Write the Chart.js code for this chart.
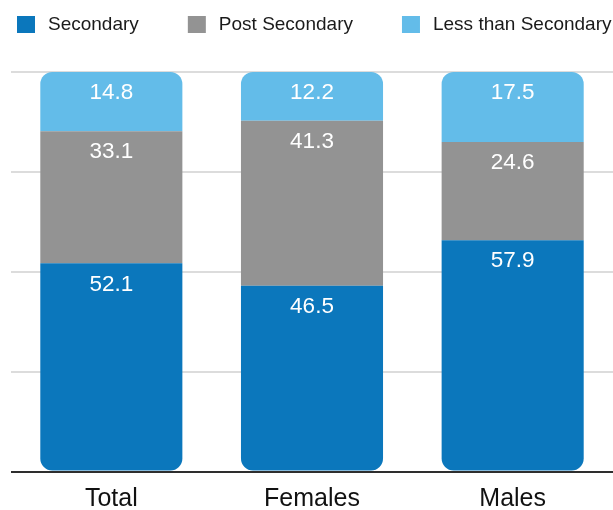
<!DOCTYPE html>
<html>
<head>
<meta charset="utf-8">
<script src="https://cdn.jsdelivr.net/npm/chart.js@4/dist/chart.umd.min.js"></script>
<style>
  html, body { margin: 0; padding: 0; background: #ffffff; }
  #wrap { width: 613px; height: 510px; position: relative; }
</style>
</head>
<body>
<div id="wrap"><canvas id="chart"></canvas></div>
<script>
// Education level shares (%) by group
const categories = ['Total', 'Females', 'Males'];
const secondary = [52.1, 46.5, 57.9];
const postSecondary = [33.1, 41.3, 24.6];
const lessThanSecondary = [14.8, 12.2, 17.5];
const seriesNames = ['Secondary', 'Post Secondary', 'Less than Secondary'];
const yTicks = [0, 25, 50, 75, 100];

const FONT = '"Liberation Sans", Arial, Helvetica, sans-serif';
const R = 12;

// Legend row drawn along the top edge
const topLegend = {
  id: 'topLegend',
  afterDraw(chart) {
    const ctx = chart.ctx;
    ctx.save();
    ctx.font = '19px ' + FONT;
    ctx.textBaseline = 'middle';
    ctx.textAlign = 'left';
    let x = 17;
    chart.data.datasets.forEach(ds => {
      ctx.fillStyle = ds.backgroundColor;
      ctx.fillRect(x, 16, 18, 17);
      ctx.fillStyle = '#1a1a1a';
      const tx = x + 31;
      ctx.fillText(ds.label, tx, 25);
      x = tx + ctx.measureText(ds.label).width + 49;
    });
    ctx.restore();
  }
};

// White value labels near the top of each segment
const segmentLabels = {
  id: 'segmentLabels',
  afterDatasetsDraw(chart) {
    const ctx = chart.ctx;
    ctx.save();
    ctx.font = '22.5px ' + FONT;
    ctx.fillStyle = '#ffffff';
    ctx.textAlign = 'center';
    ctx.textBaseline = 'middle';
    chart.data.datasets.forEach((ds, i) => {
      const meta = chart.getDatasetMeta(i);
      meta.data.forEach((bar, j) => {
        ctx.fillText(ds.data[j].toFixed(1), bar.x, bar.y + 21);
      });
    });
    ctx.restore();
  }
};

new Chart(document.getElementById('chart'), {
  type: 'bar',
  data: {
    labels: categories,
    datasets: [
      {
        label: seriesNames[0],
        data: secondary,
        backgroundColor: '#0b77bc',
        borderSkipped: false,
        borderRadius: { topLeft: 0, topRight: 0, bottomLeft: R, bottomRight: R }
      },
      {
        label: seriesNames[1],
        data: postSecondary,
        backgroundColor: '#939393',
        borderSkipped: false,
        borderRadius: 0
      },
      {
        label: seriesNames[2],
        data: lessThanSecondary,
        backgroundColor: '#63bce9',
        borderSkipped: false,
        borderRadius: { topLeft: R, topRight: R, bottomLeft: 0, bottomRight: 0 }
      }
    ]
  },
  options: {
    responsive: true,
    maintainAspectRatio: false,
    animation: false,
    devicePixelRatio: 1,
    layout: { padding: { left: 11, right: 0, top: 72, bottom: -16.5 } },
    datasets: {
      bar: { barPercentage: 0.708, categoryPercentage: 1.0 }
    },
    plugins: {
      legend: { display: false },
      tooltip: { enabled: false }
    },
    scales: {
      x: {
        stacked: true,
        grid: { display: false, drawTicks: false },
        border: { display: false },
        ticks: {
          color: '#111111',
          padding: 15,
          font: { family: FONT, size: 25, lineHeight: 1 }
        }
      },
      y: {
        stacked: true,
        min: yTicks[0],
        max: yTicks[yTicks.length - 1],
        afterBuildTicks(scale) {
          scale.ticks = yTicks.map(v => ({ value: v }));
        },
        grid: {
          drawTicks: false,
          color: ctx => (ctx.tick && ctx.tick.value === 0 ? '#2e2e2e' : '#dcdcdc'),
          lineWidth: 2
        },
        border: { display: false },
        ticks: { display: false }
      }
    }
  },
  plugins: [topLegend, segmentLabels]
});
</script>
</body>
</html>
